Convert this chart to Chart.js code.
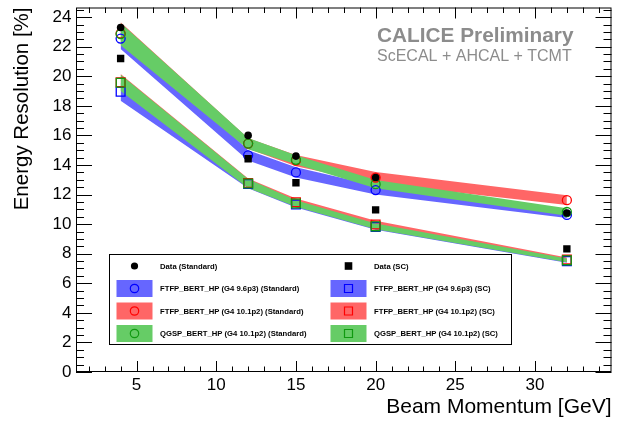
<!DOCTYPE html>
<html>
<head>
<meta charset="utf-8">
<script src="https://cdn.jsdelivr.net/npm/chart.js@4"></script>
<style>
  body { margin: 0; background: #fff; }
  #wrap { width: 619px; height: 425px; }
</style>
</head>
<body>
<div id="wrap"><canvas id="resChart"></canvas></div>
<script>
// beam momenta [GeV]
const momenta = [4, 12, 15, 20, 32];
const xTicks = [5, 10, 15, 20, 25, 30];
const yTicks = [0, 2, 4, 6, 8, 10, 12, 14, 16, 18, 20, 22, 24];

// measured energy resolution [%]
const dataStd = [23.3, 16.0, 14.6, 13.15, 10.75];
const dataSC = [21.2, 14.42, 12.8, 10.96, 8.33];

// simulation, Standard reconstruction (centre + band half width)
const ftfp96Std = [22.55, 14.65, 13.5, 12.3, 10.62];
const ftfp96StdErr = [0.7, 0.35, 0.35, 0.3, 0.2];
const ftfp101Std = [22.9, 15.45, 14.3, 13.15, 11.62];
const ftfp101StdErr = [0.75, 0.35, 0.38, 0.38, 0.33];
const qgsp101Std = [22.85, 15.45, 14.35, 12.7, 10.82];
const qgsp101StdErr = [0.75, 0.38, 0.3, 0.28, 0.25];

// simulation, SC reconstruction
const ftfp96SC = [18.95, 12.72, 11.33, 9.8, 7.5];
const ftfp96SCErr = [0.6, 0.3, 0.2, 0.18, 0.12];
const ftfp101SC = [19.6, 12.78, 11.48, 9.98, 7.6];
const ftfp101SCErr = [0.55, 0.3, 0.25, 0.25, 0.15];
const qgsp101SC = [19.56, 12.75, 11.4, 9.85, 7.55];
const qgsp101SCErr = [0.55, 0.3, 0.22, 0.2, 0.12];

const BLUE = "#0000ff", RED = "#ff0000", GREEN = "#119911";
const BLUE_BAND = "#6666ff", RED_BAND = "#ff6666", GREEN_BAND = "#66cc66";
const FONT = "'Liberation Sans', Arial, sans-serif";

function band(vals, err, color) {
  return [
    {
      data: momenta.map((m, i) => ({ x: m, y: vals[i] + err[i] })),
      fill: "+1",
      backgroundColor: color,
      borderColor: "transparent",
      borderWidth: 0,
      pointRadius: 0,
    },
    {
      data: momenta.map((m, i) => ({ x: m, y: vals[i] - err[i] })),
      fill: false,
      borderColor: "transparent",
      borderWidth: 0,
      pointRadius: 0,
    },
  ];
}

function markers(vals, style, radius, color, filled) {
  return {
    data: momenta.map((m, i) => ({ x: m, y: vals[i] })),
    showLine: false,
    pointStyle: style,
    pointRadius: radius,
    pointBorderColor: color,
    pointBackgroundColor: filled ? color : "transparent",
    pointBorderWidth: filled ? 0 : 1.3,
  };
}

// first dataset is drawn on top
const datasets = [
  markers(dataStd, "circle", 3.8, "#000", true),
  markers(dataSC, "rect", 5.2, "#000", true),
  markers(qgsp101Std, "circle", 4.5, GREEN, false),
  markers(ftfp101Std, "circle", 4.5, RED, false),
  markers(ftfp96Std, "circle", 4.5, BLUE, false),
  markers(qgsp101SC, "rect", 6.2, GREEN, false),
  markers(ftfp101SC, "rect", 6.2, RED, false),
  markers(ftfp96SC, "rect", 6.2, BLUE, false),
  ...band(qgsp101Std, qgsp101StdErr, GREEN_BAND),
  ...band(ftfp101Std, ftfp101StdErr, RED_BAND),
  ...band(ftfp96Std, ftfp96StdErr, BLUE_BAND),
  ...band(qgsp101SC, qgsp101SCErr, GREEN_BAND),
  ...band(ftfp101SC, ftfp101SCErr, RED_BAND),
  ...band(ftfp96SC, ftfp96SCErr, BLUE_BAND),
];

// legend rows: [label, marker, band colour, marker colour, filled]
const legendRows = [
  ["Data (Standard)", "circle", null, "#000", true],
  ["Data (SC)", "rect", null, "#000", true],
  ["FTFP_BERT_HP (G4 9.6p3) (Standard)", "circle", BLUE_BAND, BLUE, false],
  ["FTFP_BERT_HP (G4 9.6p3) (SC)", "rect", BLUE_BAND, BLUE, false],
  ["FTFP_BERT_HP (G4 10.1p2) (Standard)", "circle", RED_BAND, RED, false],
  ["FTFP_BERT_HP (G4 10.1p2) (SC)", "rect", RED_BAND, RED, false],
  ["QGSP_BERT_HP (G4 10.1p2) (Standard)", "circle", GREEN_BAND, GREEN, false],
  ["QGSP_BERT_HP (G4 10.1p2) (SC)", "rect", GREEN_BAND, GREEN, false],
];

const rootFrame = {
  id: "rootFrame",
  afterDatasetsDraw(chart) {
    const { ctx, chartArea: a, scales: { x, y } } = chart;
    ctx.save();
    ctx.strokeStyle = "#000";
    ctx.lineWidth = 1;
    ctx.beginPath();
    // ticks on all four sides, inside the frame
    for (let v = Math.ceil(x.min); v <= x.max; v++) {
      const px = Math.round(x.getPixelForValue(v)) + 0.5;
      const len = v % 5 === 0 ? 11 : 5.5;
      ctx.moveTo(px, a.bottom);
      ctx.lineTo(px, a.bottom - len);
      ctx.moveTo(px, a.top);
      ctx.lineTo(px, a.top + len);
    }
    for (let v = 0; v <= y.max; v += 0.5) {
      const py = Math.round(y.getPixelForValue(v)) + 0.5;
      const len = v % 2 === 0 ? 16 : 8;
      ctx.moveTo(a.left, py);
      ctx.lineTo(a.left + len, py);
      ctx.moveTo(a.right, py);
      ctx.lineTo(a.right - len, py);
    }
    ctx.stroke();
    ctx.strokeRect(a.left + 0.5, a.top + 0.5, a.width - 1, a.height - 1);
    ctx.restore();
  },
  afterDraw(chart) {
    const ctx = chart.ctx;
    ctx.save();
    // CALICE label
    ctx.fillStyle = "#8c8c8c";
    ctx.textAlign = "left";
    ctx.textBaseline = "alphabetic";
    ctx.font = "bold 20.8px " + FONT;
    ctx.fillText("CALICE Preliminary", 377, 41.5);
    ctx.font = "16px " + FONT;
    ctx.fillText("ScECAL + AHCAL + TCMT", 377, 60.5);

    // legend box
    ctx.fillStyle = "#fff";
    ctx.fillRect(109, 254, 403, 91);
    ctx.strokeStyle = "#000";
    ctx.lineWidth = 1;
    ctx.strokeRect(109.5, 254.5, 402, 90);
    const rowY = [266, 288.5, 311, 333.5];
    const colX = [116.5, 330.5];
    legendRows.forEach((r, i) => {
      const cx = colX[i % 2];
      const cy = rowY[Math.floor(i / 2)];
      if (r[2]) {
        ctx.fillStyle = r[2];
        ctx.fillRect(cx, cy - 8.5, 36, 17);
      }
      const mx = cx + 18;
      ctx.beginPath();
      if (r[1] === "circle") {
        ctx.arc(mx, cy, r[4] ? 3.6 : 4.2, 0, Math.PI * 2);
      } else {
        const h = r[4] ? 3.8 : 4;
        ctx.rect(mx - h, cy - h, 2 * h, 2 * h);
      }
      if (r[4]) {
        ctx.fillStyle = r[3];
        ctx.fill();
      } else {
        ctx.strokeStyle = r[3];
        ctx.lineWidth = 1.2;
        ctx.stroke();
      }
      ctx.fillStyle = "#000";
      ctx.font = "bold 7.7px " + FONT;
      ctx.textBaseline = "middle";
      ctx.fillText(r[0], cx + 43.5, cy + 0.5);
    });
    ctx.restore();
  },
};

const ctx = document.getElementById("resChart").getContext("2d");
const resChart = new Chart(ctx, {
  type: "line",
  data: { datasets: datasets },
  options: {
    responsive: true,
    maintainAspectRatio: false,
    devicePixelRatio: 1,
    animation: false,
    events: [],
    layout: { padding: { top: 2, right: 6, left: 0, bottom: 0 } },
    plugins: {
      legend: { display: false },
      tooltip: { enabled: false },
    },
    scales: {
      x: {
        type: "linear",
        min: 1.2,
        max: 34.8,
        afterBuildTicks: (s) => { s.ticks = xTicks.map((v) => ({ value: v })); },
        afterFit: (s) => {
          s.height = 53;
          s.paddingLeft = 0;
          s.paddingRight = 0;
        },
        grid: { display: false, drawTicks: false },
        border: { display: false },
        ticks: {
          color: "#000",
          padding: 3,
          maxRotation: 0,
          autoSkip: false,
          font: { family: FONT, size: 17 },
        },
        title: {
          display: true,
          text: "Beam Momentum [GeV]",
          align: "end",
          color: "#000",
          padding: { top: 0, bottom: 5 },
          font: { family: FONT, size: 21 },
        },
      },
      y: {
        min: 0,
        max: 24.65,
        afterBuildTicks: (s) => { s.ticks = yTicks.map((v) => ({ value: v })); },
        afterFit: (s) => {
          s.width = 76;
          s.paddingTop = 0;
          s.paddingBottom = 0;
        },
        grid: { display: false, drawTicks: false },
        border: { display: false },
        ticks: {
          color: "#000",
          padding: 4.5,
          autoSkip: false,
          font: { family: FONT, size: 17 },
        },
        title: {
          display: true,
          text: "Energy Resolution [%]",
          align: "end",
          color: "#000",
          padding: { top: 10, bottom: 0 },
          font: { family: FONT, size: 20.5 },
        },
      },
    },
  },
  plugins: [rootFrame],
});
</script>
</body>
</html>
